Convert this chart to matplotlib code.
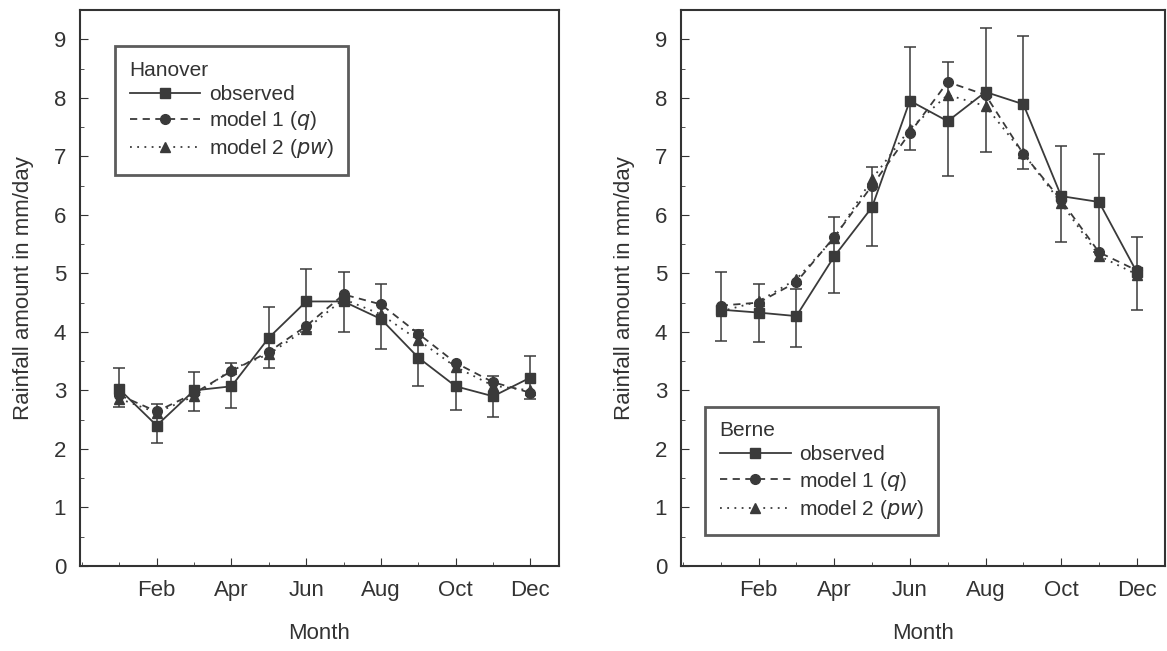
import matplotlib.pyplot as plt
from matplotlib.ticker import MultipleLocator

plt.rcParams['font.family'] = ['Liberation Sans', 'DejaVu Sans']

months = [1, 2, 3, 4, 5, 6, 7, 8, 9, 10, 11, 12]
tick_months = [2, 4, 6, 8, 10, 12]
tick_labels = ['Feb', 'Apr', 'Jun', 'Aug', 'Oct', 'Dec']

# Hanover
han_obs = [3.02, 2.40, 3.00, 3.07, 3.90, 4.52, 4.52, 4.22, 3.56, 3.07, 2.90, 3.22]
han_lo = [2.72, 2.10, 2.64, 2.70, 3.39, 4.00, 3.99, 3.70, 3.08, 2.67, 2.55, 2.86]
han_hi = [3.38, 2.76, 3.31, 3.47, 4.42, 5.08, 5.02, 4.81, 4.04, 3.47, 3.25, 3.58]
han_m1 = [2.92, 2.64, 2.95, 3.33, 3.66, 4.10, 4.64, 4.47, 3.97, 3.47, 3.14, 2.96]
han_m2 = [2.86, 2.62, 2.90, 3.36, 3.62, 4.05, 4.56, 4.30, 3.86, 3.40, 3.08, 3.00]

# Berne
ber_obs = [4.38, 4.33, 4.27, 5.29, 6.13, 7.95, 7.60, 8.10, 7.89, 6.32, 6.22, 5.02]
ber_lo = [3.84, 3.82, 3.75, 4.67, 5.46, 7.10, 6.66, 7.07, 6.78, 5.53, 5.36, 4.38]
ber_hi = [5.02, 4.81, 4.73, 5.96, 6.82, 8.87, 8.61, 9.19, 9.06, 7.17, 7.04, 5.62]
ber_m1 = [4.45, 4.50, 4.85, 5.62, 6.50, 7.40, 8.27, 8.05, 7.04, 6.25, 5.36, 5.05]
ber_m2 = [4.35, 4.52, 4.90, 5.60, 6.61, 7.47, 8.05, 7.86, 7.05, 6.20, 5.30, 4.98]

c = '#3a3a3a'
tc = '#333333'


def panel(ax, title, obs, lo, hi, m1, m2, loc, anchor):
    yerr = [[o - l for o, l in zip(obs, lo)], [h - o for o, h in zip(obs, hi)]]
    eb = ax.errorbar(months, obs, yerr=yerr, color=c, lw=1.3, marker='s', ms=7,
                     capsize=4, elinewidth=1.1, capthick=1.1)
    l1, = ax.plot(months, m1, color=c, lw=1.3, ls=(0, (4, 3)), marker='o', ms=7)
    l2, = ax.plot(months, m2, color=c, lw=1.3, ls=(0, (1, 3)), marker='^', ms=7)
    ax.set_xlim(-0.05, 12.75)
    ax.set_ylim(0, 9.5)
    ax.set_xticks(tick_months)
    ax.set_xticklabels(tick_labels)
    ax.xaxis.set_minor_locator(MultipleLocator(1))
    ax.yaxis.set_major_locator(MultipleLocator(1))
    ax.yaxis.set_minor_locator(MultipleLocator(0.5))
    ax.tick_params(which='both', direction='in', labelsize=16, colors=tc,
                   top=False, right=False)
    ax.tick_params(which='major', length=6, pad=10)
    ax.tick_params(which='minor', length=3)
    for s in ax.spines.values():
        s.set_linewidth(1.5)
        s.set_color(tc)
    ax.set_xlabel('Month', fontsize=16, color=tc, labelpad=16)
    ax.set_ylabel('Rainfall amount in mm/day', fontsize=16, color=tc,
                  labelpad=14)
    leg = ax.legend([eb[0], l1, l2],
                    ['observed', 'model 1 ($q$)', 'model 2 ($pw$)'],
                    title=title, loc=loc, bbox_to_anchor=anchor,
                    fontsize=15, title_fontsize=15,
                    fancybox=False, edgecolor=tc, handlelength=3.4,
                    borderpad=0.7, labelspacing=0.25, handletextpad=0.4,
                    borderaxespad=0, alignment='left')
    leg.get_frame().set_linewidth(2)
    for t in leg.get_texts():
        t.set_color(tc)
    leg.get_title().set_color(tc)


fig = plt.figure(figsize=(11.67, 6.51), dpi=100)
ax1 = fig.add_axes([0.0686, 0.1306, 0.41, 0.854])
ax2 = fig.add_axes([0.5835, 0.1306, 0.415, 0.854])

panel(ax1, 'Hanover', han_obs, han_lo, han_hi, han_m1, han_m2,
      'upper left', (0.073, 0.935))
panel(ax2, 'Berne', ber_obs, ber_lo, ber_hi, ber_m1, ber_m2,
      'lower left', (0.05, 0.055))

fig.savefig('out.png', dpi=100)
